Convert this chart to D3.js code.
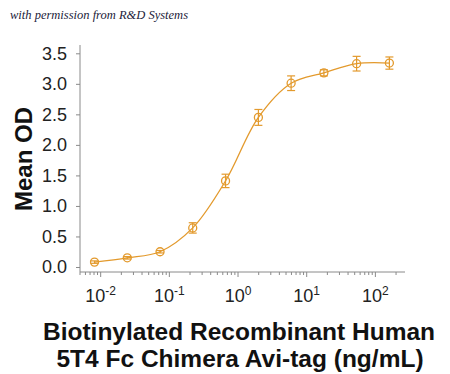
<!DOCTYPE html>
<html>
<head>
<meta charset="utf-8">
<script src="https://cdn.jsdelivr.net/npm/d3@7"></script>
<style>
  body { margin: 0; background: #fff; }
  svg { display: block; }
</style>
</head>
<body>
<div id="chart"></div>
<script>
// concentrations (ng/mL), 3-fold dilution series
var conc = [0.00813, 0.0244, 0.0732, 0.219, 0.658, 1.98, 5.93, 17.8, 53.3, 160];
var meanOD = [0.08, 0.15, 0.25, 0.64, 1.41, 2.45, 3.01, 3.18, 3.33, 3.34];
var errOD = [0.02, 0.02, 0.02, 0.085, 0.11, 0.13, 0.12, 0.05, 0.12, 0.10];
var yTicks = [0, 0.5, 1.0, 1.5, 2.0, 2.5, 3.0, 3.5];
var xMajor = [-2, -1, 0, 1, 2];

var W = 450, H = 374;
var orange = "#e39a2d";
var axisCol = "#8a8a8a";

var svg = d3.select("#chart").append("svg")
    .attr("width", W).attr("height", H);

var x = d3.scaleLog().domain([0.005, 270]).range([80, 405]);
var y = d3.scaleLinear().domain([-0.082, 3.636]).range([272, 45]);

// credit line
svg.append("text")
    .attr("x", 10).attr("y", 19)
    .style("font-family", "'Liberation Serif', serif")
    .style("font-style", "italic")
    .style("font-size", "12.5px")
    .style("fill", "#1c1c3a")
    .text("with permission from R&D Systems");

// y axis
var yAxis = d3.axisLeft(y).tickValues(yTicks).tickSize(4).tickPadding(9)
    .tickFormat(d3.format(".1f"));
var gy = svg.append("g").attr("transform", "translate(80,0)").call(yAxis);
gy.select(".domain").attr("d", "M0," + y.range()[1] + "V" + y.range()[0]);

// x axis: major + minor ticks
var minor = [];
for (var e = -3; e <= 2; e++) {
    for (var m = 2; m <= 9; m++) {
        var v = m * Math.pow(10, e);
        if (v >= x.domain()[0] && v <= x.domain()[1]) minor.push(v);
    }
}
var gx = svg.append("g").attr("transform", "translate(0,272)");
gx.append("path").attr("d", "M80,0H405").attr("stroke", axisCol).attr("fill", "none");
gx.selectAll("line.minor").data(minor).enter().append("line")
    .attr("class", "minor")
    .attr("x1", function(d){return x(d);}).attr("x2", function(d){return x(d);})
    .attr("y1", 0).attr("y2", 3);
gx.selectAll("line.major").data(xMajor).enter().append("line")
    .attr("class", "major")
    .attr("x1", function(d){return x(Math.pow(10, d));}).attr("x2", function(d){return x(Math.pow(10, d));})
    .attr("y1", 0).attr("y2", 5);
gx.selectAll("line").attr("stroke", axisCol).attr("stroke-width", 1);

var lab = gx.selectAll("text.xl").data(xMajor).enter().append("text")
    .attr("class", "xl")
    .attr("x", function(d){return x(Math.pow(10, d));})
    .attr("y", 30)
    .attr("text-anchor", "middle")
    .style("font-family", "Arial, 'Liberation Sans', sans-serif")
    .style("font-size", "18px")
    .style("fill", "#222");
lab.append("tspan").text("10");
lab.append("tspan").attr("dy", -7).style("font-size", "12px")
    .text(function(d){return d < 0 ? "-" + (-d) : d;});

gy.selectAll(".tick text")
    .style("font-family", "Arial, 'Liberation Sans', sans-serif")
    .style("font-size", "18px")
    .style("fill", "#222");
gy.selectAll(".tick line, .domain").attr("stroke", axisCol);

// axis titles
svg.append("text")
    .attr("transform", "translate(32,159) rotate(-90)")
    .attr("text-anchor", "middle")
    .style("font-family", "Arial, 'Liberation Sans', sans-serif")
    .style("font-weight", "bold")
    .style("font-size", "24px")
    .style("fill", "#111")
    .text("Mean OD");

var xtStyle = function(t){
    t.attr("text-anchor", "middle")
        .style("font-family", "Arial, 'Liberation Sans', sans-serif")
        .style("font-weight", "bold")
        .style("font-size", "24.5px")
        .style("fill", "#111");
};
svg.append("text").attr("x", 239).attr("y", 340).call(xtStyle)
    .text("Biotinylated Recombinant Human");
svg.append("text").attr("x", 240).attr("y", 367).call(xtStyle)
    .text("5T4 Fc Chimera Avi-tag (ng/mL)");

// data
var pts = conc.map(function(c, i){ return {c: c, v: meanOD[i], e: errOD[i]}; });

var line = d3.line()
    .x(function(d){return x(d.c);})
    .y(function(d){return y(d.v);})
    .curve(d3.curveCatmullRom.alpha(0.5));
svg.append("path").datum(pts)
    .attr("d", line)
    .attr("fill", "none")
    .attr("stroke", orange)
    .attr("stroke-width", 1.3);

var g = svg.selectAll("g.pt").data(pts).enter().append("g").attr("class", "pt");
g.append("line")
    .attr("x1", function(d){return x(d.c);}).attr("x2", function(d){return x(d.c);})
    .attr("y1", function(d){return y(d.v - d.e);}).attr("y2", function(d){return y(d.v + d.e);});
g.append("line")
    .attr("x1", function(d){return x(d.c) - 4;}).attr("x2", function(d){return x(d.c) + 4;})
    .attr("y1", function(d){return y(d.v + d.e);}).attr("y2", function(d){return y(d.v + d.e);});
g.append("line")
    .attr("x1", function(d){return x(d.c) - 4;}).attr("x2", function(d){return x(d.c) + 4;})
    .attr("y1", function(d){return y(d.v - d.e);}).attr("y2", function(d){return y(d.v - d.e);});
g.selectAll("line").attr("stroke", orange).attr("stroke-width", 1.2);
g.append("circle")
    .attr("cx", function(d){return x(d.c);})
    .attr("cy", function(d){return y(d.v);})
    .attr("r", 4)
    .attr("fill", "none")
    .attr("stroke", orange)
    .attr("stroke-width", 1.3);
</script>
</body>
</html>
